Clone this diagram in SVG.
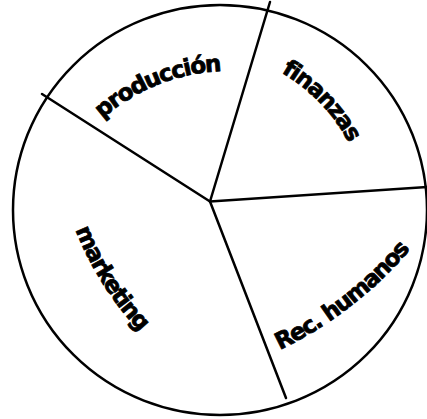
<svg xmlns="http://www.w3.org/2000/svg" xmlns:xlink="http://www.w3.org/1999/xlink" width="427" height="419" viewBox="0 0 427 419">
  <style>
    .edge { fill: none; stroke: #000; stroke-width: 2.5; stroke-linecap: round; }
    .lbl { font-family: "DejaVu Sans", "Liberation Sans", sans-serif; font-weight: bold; font-size: 23px; fill: #000; stroke: #000; stroke-width: 0.8; stroke-linejoin: round; letter-spacing: -1.4px; }
  </style>
  <defs>
    <path id="p-prod" d="M97,124 A190,190 0 0 1 228,71"/>
    <path id="p-fin" d="M280,72 A175,175 0 0 1 349,143"/>
    <path id="p-mkt" d="M74,226 A320,320 0 0 0 142,334"/>
    <path id="p-rh" d="M275,352 A390,390 0 0 0 413,246"/>
  </defs>
  <rect width="427" height="419" fill="#fff"/>
  <g id="circle">
    <ellipse class="edge" cx="220" cy="210" rx="207" ry="205"/>
  </g>
  <g id="connectors">
    <line class="edge" x1="210" y1="201.5" x2="270" y2="2"/>
    <line class="edge" x1="210" y1="201.5" x2="42" y2="94"/>
    <line class="edge" x1="210" y1="201.5" x2="428" y2="187"/>
    <line class="edge" x1="210" y1="201.5" x2="286" y2="398"/>
  </g>
  <g id="produccion">
    <text class="lbl"><textPath xlink:href="#p-prod" href="#p-prod" startOffset="50%" text-anchor="middle">producción</textPath></text>
  </g>
  <g id="finanzas">
    <text class="lbl"><textPath xlink:href="#p-fin" href="#p-fin" startOffset="50%" text-anchor="middle">finanzas</textPath></text>
  </g>
  <g id="marketing">
    <text class="lbl"><textPath xlink:href="#p-mkt" href="#p-mkt" startOffset="50%" text-anchor="middle">marketing</textPath></text>
  </g>
  <g id="rec-humanos">
    <text class="lbl"><textPath xlink:href="#p-rh" href="#p-rh" startOffset="50%" text-anchor="middle">Rec. humanos</textPath></text>
  </g>
</svg>
